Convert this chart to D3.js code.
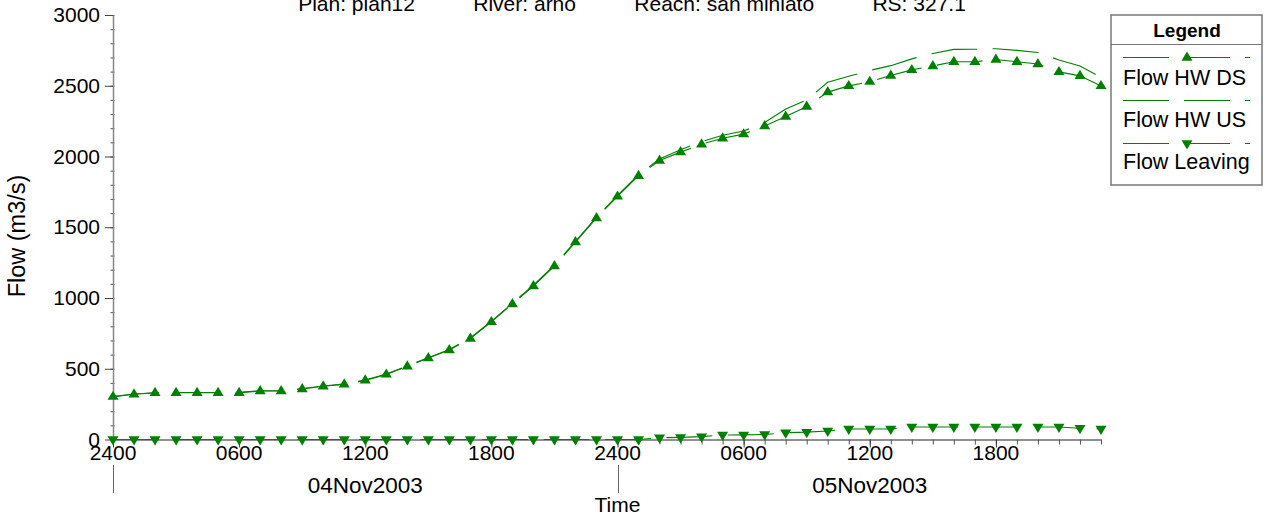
<!DOCTYPE html>
<html><head><meta charset="utf-8">
<script src="https://cdn.jsdelivr.net/npm/d3@7"></script>
<style>
html,body{margin:0;padding:0;background:#fff;}
svg{display:block;font-family:"Liberation Sans",Arial,sans-serif;}
</style></head><body>
<svg id="chart" width="1265" height="519"></svg>
<script>
// ---- data ----
const hours = [0,1,2,3,4,5,6,7,8,9,10,11,12,13,14,15,16,17,18,19,20,21,22,23,
               24,25,26,27,28,29,30,31,32,33,34,35,36,37,38,39,40,41,42,43,44,45,46,47];
const flowHwDs = [303,320,330,330,330,330,330,343,343,357,376,390,418,460,518,576,633,713,831,958,1085,1226,1395,1565,
                  1718,1864,1972,2031,2087,2129,2158,2216,2282,2353,2455,2499,2529,2572,2612,2640,2670,2670,2685,2670,2654,2598,2570,2499];
const flowHwUs = [303,322,330,332,332,332,333,345,345,360,378,392,420,462,520,578,636,718,836,963,1090,1232,1400,1572,
                  1725,1872,1982,2048,2105,2150,2180,2240,2335,2400,2525,2567,2608,2642,2690,2728,2757,2758,2762,2750,2735,2682,2640,2560];
const flowLeaving = [0,0,0,0,0,0,0,0,0,0,0,0,0,0,0,0,0,0,0,0,0,0,0,0,
                     0,0,12,15,20,32,33,35,48,52,60,74,74,75,88,88,88,88,88,88,88,88,80,75];
const yMajorTicks = [0,500,1000,1500,2000,2500,3000];
const xMajorHours = [0,6,12,18,24,30,36,42];
const xTickLabels = ["2400","0600","1200","1800","2400","0600","1200","1800"];
const dateHours = [12,36];
const dateLabels = ["04Nov2003","05Nov2003"];
const dayBoundaryHours = [0,24];
const seriesNames = ["Flow HW DS","Flow HW US","Flow Leaving"];
const titleText = "Plan: plan12          River: arno          Reach: san miniato          RS: 327.1";
const yTitle = "Flow (m3/s)";
const xTitle = "Time";

// ---- layout ----
const svg = d3.select("#chart");
const green = "#008000";
const x = d3.scaleLinear().domain([0, 47]).range([113, 1101]);
const y = d3.scaleLinear().domain([0, 3000]).range([439.5, 15]);
const dash = "46,15.5";

// title
svg.append("text").attr("x", 632).attr("y", 11).attr("text-anchor", "middle")
  .attr("font-size", 21).attr("xml:space", "preserve").style("white-space", "pre")
  .text(titleText);

// y axis
const yMinor = d3.range(0, 3001, 100);
const gyMinor = svg.append("g").attr("transform", "translate(113,0)")
  .call(d3.axisLeft(y).tickValues(yMinor).tickSize(4).tickFormat(""));
gyMinor.select(".domain").remove();
gyMinor.selectAll(".tick line").attr("stroke", "#555").attr("transform", "translate(1.5,0)");
const gy = svg.append("g").attr("transform", "translate(113,0)")
  .call(d3.axisLeft(y).tickValues(yMajorTicks).tickSize(8).tickPadding(5).tickSizeOuter(0).tickFormat(d3.format("d")));
gy.select(".domain").attr("stroke", "#888").attr("stroke-width", 1.5);
gy.selectAll(".tick line").attr("stroke", "#444");
gy.selectAll(".tick text").attr("font-size", 21).attr("font-family", "Liberation Sans, Arial, sans-serif").attr("fill", "#000");

// x axis
const gxMinor = svg.append("g").attr("transform", "translate(0,439.5)")
  .call(d3.axisBottom(x).tickValues(hours).tickSize(5).tickFormat("").tickSizeOuter(0));
gxMinor.select(".domain").attr("stroke", "#222").attr("stroke-width", 1.2);
gxMinor.selectAll(".tick line").attr("stroke", "#555");
const gxMajor = svg.append("g").attr("transform", "translate(0,439.5)")
  .call(d3.axisBottom(x).tickValues(xMajorHours).tickSize(8).tickFormat("").tickSizeOuter(0));
gxMajor.select(".domain").remove();
gxMajor.selectAll(".tick line").attr("stroke", "#333");

svg.append("g").selectAll("text").data(xMajorHours).join("text")
  .attr("x", d => x(d)).attr("y", 460).attr("text-anchor", "middle")
  .attr("font-size", 21).text((d, i) => xTickLabels[i]);
svg.append("g").selectAll("text").data(dateHours).join("text")
  .attr("x", d => x(d)).attr("y", 493).attr("text-anchor", "middle")
  .attr("font-size", 22.5).text((d, i) => dateLabels[i]);
svg.append("g").selectAll("line").data(dayBoundaryHours).join("line")
  .attr("x1", d => Math.round(x(d)) + 0.5).attr("x2", d => Math.round(x(d)) + 0.5)
  .attr("y1", 465).attr("y2", 493).attr("stroke", "#666").attr("stroke-width", 1);
svg.append("text").attr("x", x(24)).attr("y", 512).attr("text-anchor", "middle")
  .attr("font-size", 21).text(xTitle);
svg.append("text").attr("transform", "translate(25,236) rotate(-90)")
  .attr("text-anchor", "middle").attr("font-size", 23.5).text(yTitle);

// series
const line = d3.line().x((d, i) => x(hours[i])).y(d => y(d));
const upTri = "M0,-6L5.5,3.2L-5.5,3.2Z";
const downTri = "M0,6L5.5,-3.2L-5.5,-3.2Z";

function drawSeries(vals, marker) {
  svg.append("path").datum(vals).attr("d", line).attr("fill", "none")
    .attr("stroke", green).attr("stroke-width", 1.1).attr("stroke-dasharray", dash);
  if (marker) {
    svg.append("g").selectAll("path").data(vals).join("path")
      .attr("d", marker)
      .attr("transform", (d, i) => `translate(${x(hours[i])},${y(d)})`)
      .attr("fill", green);
  }
}
drawSeries(flowHwUs, null);
drawSeries(flowHwDs, upTri);
drawSeries(flowLeaving, downTri);

// legend
const lg = svg.append("g");
lg.append("rect").attr("x", 1111).attr("y", 15).attr("width", 151).attr("height", 170)
  .attr("fill", "#fff").attr("stroke", "#777").attr("stroke-width", 1.5);
lg.append("line").attr("x1", 1111).attr("x2", 1262).attr("y1", 44.5).attr("y2", 44.5)
  .attr("stroke", "#777").attr("stroke-width", 1.2);
lg.append("text").attr("x", 1187).attr("y", 37).attr("text-anchor", "middle")
  .attr("font-size", 19).attr("font-weight", "bold").text("Legend");
const legendLineY = [57.5, 100.5, 143.5];
const legendTextY = [85, 127, 168.5];
const legendMarkers = [upTri, null, downTri];
seriesNames.forEach((name, i) => {
  lg.append("line").attr("x1", 1123).attr("x2", 1250).attr("y1", legendLineY[i]).attr("y2", legendLineY[i])
    .attr("stroke", green).attr("stroke-width", 1.1).attr("stroke-dasharray", "46,15");
  if (legendMarkers[i]) {
    lg.append("path").attr("d", legendMarkers[i]).attr("fill", green)
      .attr("transform", `translate(1187,${legendLineY[i]})`);
  }
  lg.append("text").attr("x", 1123).attr("y", legendTextY[i]).attr("font-size", 21.5).text(name);
});
</script>
</body></html>
